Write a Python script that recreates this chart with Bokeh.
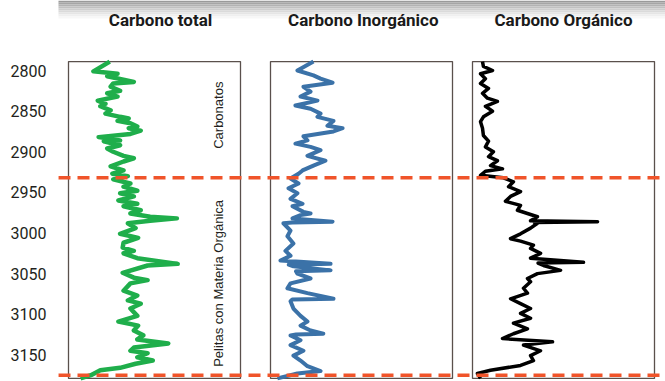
import math
from bokeh.plotting import figure
from bokeh.models import Range1d, FixedTicker, Span, BoxAnnotation, Label
from bokeh.embed import file_html
from bokeh.resources import INLINE

# ---------------- data ----------------
titles = ["Carbono total", "Carbono Inorgánico", "Carbono Orgánico"]
depth_ticks = [2800, 2850, 2900, 2950, 3000, 3050, 3100, 3150]
boundaries = [2932, 3175]
zone_labels = ["Carbonatos", "Pelitas con Materia Orgánica"]

total_depth = [2789, 2801, 2804, 2807, 2814, 2816, 2820, 2825, 2828, 2832, 2837, 2841, 2844, 2849,
               2853, 2857, 2859, 2862, 2865, 2869, 2871, 2874, 2878, 2882, 2886, 2887, 2892, 2896,
               2900, 2905, 2908, 2912, 2918, 2923, 2927, 2930, 2934, 2939, 2943, 2948, 2951, 2955,
               2960, 2964, 2967, 2972, 2976, 2980, 2982, 2985, 2988, 2994, 3001, 3006, 3012, 3018,
               3022, 3025, 3031, 3038, 3040, 3049, 3055, 3058, 3062, 3071, 3077, 3083, 3087, 3093,
               3102, 3109, 3114, 3120, 3126, 3131, 3136, 3141, 3145, 3148, 3153, 3157, 3161, 3166,
               3169, 3175, 3179]
total_c = [2.4, 1.45, 2.85, 2.25, 3.8, 2.6, 2.45, 3.0, 2.25, 2.85, 1.7, 2.15, 1.85, 2.45,
           2.15, 3.0, 3.5, 2.85, 3.6, 4.0, 3.5, 4.2, 3.6, 1.75, 3.0, 2.05, 3.0, 2.25,
           2.6, 3.2, 3.8, 3.2, 2.45, 3.2, 2.55, 3.45, 2.6, 3.6, 3.2, 4.0, 3.0, 3.8,
           2.9, 4.0, 3.2, 4.2, 3.6, 4.75, 6.3, 4.75, 3.45, 3.9, 3.0, 4.05, 3.2, 3.15,
           3.8, 3.2, 4.0, 6.35, 4.6, 3.15, 3.8, 4.6, 3.6, 3.2, 4.0, 3.45, 4.2, 3.6,
           4.0, 2.9, 4.05, 3.8, 4.35, 4.0, 5.8, 3.8, 3.6, 4.6, 4.0, 4.9, 3.9, 3.0,
           1.85, 1.3, 0.7]

inorg_depth = [2789, 2800, 2806, 2810, 2815, 2820, 2826, 2832, 2837, 2843, 2847, 2853, 2857, 2862,
               2868, 2871, 2875, 2881, 2886, 2890, 2894, 2898, 2905, 2911, 2917, 2923, 2927, 2933,
               2939, 2945, 2951, 2958, 2964, 2967, 2974, 2976, 2978, 2982, 2986, 2987, 2988, 2997,
               3004, 3013, 3022, 3028, 3034, 3038, 3039, 3041, 3046, 3047, 3050, 3056, 3062, 3068,
               3074, 3081, 3082, 3084, 3093, 3102, 3109, 3114, 3120, 3124, 3125, 3126, 3132, 3138,
               3145, 3151, 3157, 3164, 3170, 3173, 3179]
inorg_c = [2.36, 1.48, 2.36, 2.75, 3.41, 1.81, 2.2, 1.65, 2.58, 1.37, 2.2, 2.75, 2.58, 3.46,
           3.13, 3.96, 3.46, 1.81, 2.03, 1.37, 2.2, 2.75, 2.03, 3.02, 2.36, 1.76, 1.54, 1.1,
           1.54, 0.99, 1.48, 1.1, 1.76, 1.21, 1.81, 2.2, 1.65, 1.21, 3.41, 1.2, 0.71, 1.1,
           0.93, 1.26, 0.82, 1.1, 0.55, 3.3, 1.0, 1.26, 3.3, 1.4, 1.48, 2.2, 1.1, 0.93,
           2.03, 3.46, 1.2, 1.1, 1.26, 1.65, 2.03, 1.65, 2.2, 2.9, 1.4, 1.1, 1.65, 1.1,
           1.81, 1.26, 1.65, 2.03, 2.75, 1.48, 0.38]

org_depth = [2789, 2795, 2800, 2804, 2810, 2816, 2822, 2828, 2834, 2838, 2844, 2850, 2857, 2863,
             2871, 2880, 2887, 2894, 2900, 2906, 2911, 2917, 2921, 2924, 2929, 2932, 2937, 2943,
             2949, 2955, 2961, 2966, 2972, 2976, 2980, 2985, 2986, 2987, 2988, 2994, 3001, 3007,
             3010, 3015, 3019, 3025, 3031, 3036, 3037, 3040, 3046, 3050, 3056, 3060, 3068, 3074,
             3081, 3087, 3093, 3099, 3105, 3111, 3118, 3124, 3130, 3134, 3138, 3145, 3151, 3157,
             3163, 3169, 3173, 3179]
org_c = [0.55, 0.6, 1.1, 0.44, 0.71, 0.44, 0.88, 0.55, 0.82, 1.37, 0.71, 1.1, 0.6, 0.44,
         0.55, 0.6, 0.88, 0.71, 1.15, 0.88, 1.37, 0.99, 1.65, 0.71, 0.44, 1.7, 2.25, 1.98,
         2.64, 2.09, 1.81, 2.64, 2.47, 3.02, 3.57, 3.19, 6.87, 3.4, 3.57, 3.19, 2.64, 2.09,
         2.64, 3.35, 3.19, 3.74, 3.19, 6.1, 3.6, 3.9, 4.84, 3.57, 3.02, 3.19, 2.8, 3.02,
         2.09, 2.64, 3.19, 2.64, 3.19, 2.25, 3.02, 2.25, 1.65, 4.4, 2.8, 3.74, 3.19, 3.35,
         2.64, 0.99, 0.27, 0.44]

# ---------------- layout ----------------
W, H = 665, 381
LEFT = 58                      # width reserved for the depth axis
FRAME_W = W - LEFT
PANELS = [(68, 240), (270, 452), (472, 654)]   # pixel extents of the three tracks
VMIN, VMAX = 0.0, 10.0
DEPTH_TOP, DEPTH_BOT = 2789, 3179


def panel_range(px0, px1):
    f0, f1 = px0 - LEFT, px1 - LEFT
    k = (VMAX - VMIN) / (f1 - f0)
    return Range1d(start=VMIN - f0 * k, end=VMAX + (FRAME_W - f1) * k)


ranges = [panel_range(a, b) for a, b in PANELS]

p = figure(width=W, height=H, output_backend="svg", toolbar_location=None,
           x_range=ranges[0], y_range=Range1d(start=3182.8, end=2713.8),
           x_axis_location=None, y_axis_location="left",
           min_border_left=LEFT, min_border_right=0, min_border_top=0, min_border_bottom=0)
p.extra_x_ranges = {"p2": ranges[1], "p3": ranges[2]}
names = ["default", "p2", "p3"]
p.outline_line_color = None
p.xgrid.visible = False
p.ygrid.visible = False
p.background_fill_color = "white"
p.border_fill_color = "white"

ax = p.yaxis[0]
ax.ticker = FixedTicker(ticks=depth_ticks)
ax.axis_line_color = None
ax.major_tick_line_color = None
ax.minor_tick_line_color = None
ax.major_label_standoff = 6
ax.major_label_text_font = "Roboto"
ax.major_label_text_font_size = "16px"
ax.major_label_text_color = "#231f20"

# top grey gradient band
band = ["#9a9a9a", "#a6a6a6", "#b3b3b3", "#c1c1c1", "#cecece", "#dadada", "#e5e5e5", "#efefef", "#f7f7f7"]
for i, c in enumerate(band):
    p.add_layout(BoxAnnotation(left=0, right=W, left_units="canvas", right_units="canvas",
                               top=i * 2, bottom=i * 2 + 2, top_units="canvas", bottom_units="canvas",
                               fill_color=c, fill_alpha=1, line_color=None))

# track frames
for nm in names:
    kw = {} if nm == "default" else {"x_range_name": nm}
    p.add_layout(BoxAnnotation(left=VMIN, right=VMAX, top=DEPTH_TOP, bottom=DEPTH_BOT,
                               fill_color=None, fill_alpha=0, line_color="#5a504c",
                               line_alpha=1, line_width=1.3, level="underlay", **kw))

series = [(total_c, total_depth, "#1fae4b", 4.5),
          (inorg_c, inorg_depth, "#3b72a8", 4.0),
          (org_c, org_depth, "#000000", 3.5)]
for (xs, ys, col, lw), nm in zip(series, names):
    kw = {} if nm == "default" else {"x_range_name": nm}
    p.line(x=xs, y=ys, line_color=col, line_width=lw, line_join="round", **kw)

# boundaries (dashed)
for b in boundaries:
    p.add_layout(Span(location=b, dimension="width", line_color="#f0542a",
                      line_width=3.5, line_dash="12 7"))
    p.add_layout(BoxAnnotation(left=10, right=LEFT, left_units="canvas", right_units="canvas",
                               top=b, bottom=b, fill_color=None, fill_alpha=0, line_alpha=1,
                               line_color="#f0542a", line_width=3.5, line_dash="12 7"))

# titles
title_x = [5.35, 5.1, 5.0]
for t, nm, tx in zip(titles, names, title_x):
    kw = {} if nm == "default" else {"x_range_name": nm}
    p.add_layout(Label(x=tx, y=2738.4, text=t, text_align="center", text_baseline="middle",
                       text_font="Roboto", text_font_style="bold", text_font_size="17px",
                       text_color="#1a1a1a", **kw))

# zone labels (vertical)
for txt, y in zip(zone_labels, [2855, 3062]):
    p.add_layout(Label(x=8.7, y=y, text=txt, angle=math.pi / 2, text_align="center",
                       text_baseline="middle", text_font="Liberation Sans",
                       text_font_size="13px", text_color="#231f20"))

open("out.html", "w").write(file_html(p, INLINE))
